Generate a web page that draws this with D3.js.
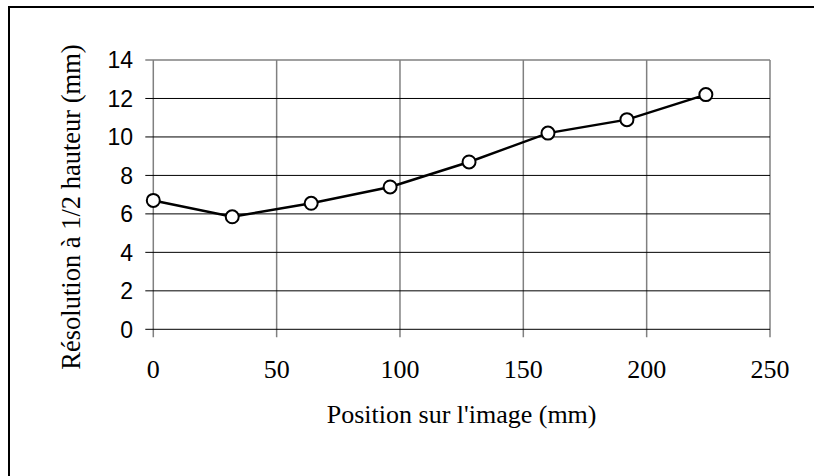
<!DOCTYPE html>
<html>
<head>
<meta charset="utf-8">
<script src="https://cdn.jsdelivr.net/npm/d3@7"></script>
<style>
  html, body { margin: 0; padding: 0; background: #fff; }
  svg { display: block; }
</style>
</head>
<body>
<svg id="chart" width="814" height="476"></svg>
<script>
// Position along the image (mm) and the half-height resolution measured there (mm)
const positions = [0, 32, 64, 96, 128, 160, 192, 224];
const resolution = [6.7, 5.85, 6.55, 7.4, 8.7, 10.2, 10.9, 12.2];
const xTicks = [0, 50, 100, 150, 200, 250];
const yTicks = [0, 2, 4, 6, 8, 10, 12, 14];
const xTitle = "Position sur l'image (mm)";
const yTitle = "Résolution à 1/2 hauteur (mm)";

const svg = d3.select("#chart");
const plot = { left: 153.3, right: 770, top: 60, bottom: 329.3 };

const x = d3.scaleLinear().domain([0, 250]).range([plot.left, plot.right]);
const y = d3.scaleLinear().domain([0, 14]).range([plot.bottom, plot.top]);

// outer frame
svg.append("rect")
  .attr("x", 9).attr("y", 7)
  .attr("width", 840).attr("height", 500)
  .attr("fill", "none").attr("stroke", "#000").attr("stroke-width", 2);

// vertical grid lines (grey)
svg.append("g")
  .selectAll("line")
  .data(xTicks)
  .join("line")
  .attr("x1", d => x(d)).attr("x2", d => x(d))
  .attr("y1", plot.top).attr("y2", plot.bottom + 8)
  .attr("stroke", "#808080").attr("stroke-width", 1.5);

// horizontal grid lines with left tick marks
svg.append("g")
  .selectAll("line")
  .data(yTicks)
  .join("line")
  .attr("x1", plot.left - 8).attr("x2", plot.right)
  .attr("y1", d => y(d)).attr("y2", d => y(d))
  .attr("stroke", d => d === 14 ? "#808080" : "#000")
  .attr("stroke-width", d => d === 14 ? 1.5 : 1);

// y axis labels
svg.append("g")
  .selectAll("text")
  .data(yTicks)
  .join("text")
  .attr("x", 133)
  .attr("y", d => y(d))
  .attr("dy", "0.36em")
  .attr("text-anchor", "end")
  .attr("font-family", "'Liberation Sans', Arial, sans-serif")
  .attr("font-size", 23)
  .attr("fill", "#000")
  .text(d => d);

// x axis labels
svg.append("g")
  .selectAll("text")
  .data(xTicks)
  .join("text")
  .attr("x", d => x(d))
  .attr("y", 378)
  .attr("text-anchor", "middle")
  .attr("font-family", "'Liberation Serif', 'Times New Roman', serif")
  .attr("font-size", 26)
  .attr("fill", "#000")
  .text(d => d);

// axis titles
svg.append("text")
  .attr("x", (plot.left + plot.right) / 2)
  .attr("y", 423)
  .attr("text-anchor", "middle")
  .attr("font-family", "'Liberation Serif', 'Times New Roman', serif")
  .attr("font-size", 26)
  .attr("fill", "#000")
  .text(xTitle);

svg.append("text")
  .attr("transform", "translate(80,207) rotate(-90)")
  .attr("text-anchor", "middle")
  .attr("font-family", "'Liberation Serif', 'Times New Roman', serif")
  .attr("font-size", 26.5)
  .attr("fill", "#000")
  .text(yTitle);

// data line and markers
const pts = positions.map((p, i) => [p, resolution[i]]);
svg.append("path")
  .datum(pts)
  .attr("fill", "none")
  .attr("stroke", "#000")
  .attr("stroke-width", 2.5)
  .attr("d", d3.line().x(d => x(d[0])).y(d => y(d[1])));

svg.append("g")
  .selectAll("circle")
  .data(pts)
  .join("circle")
  .attr("cx", d => x(d[0]))
  .attr("cy", d => y(d[1]))
  .attr("r", 6.5)
  .attr("fill", "#fff")
  .attr("stroke", "#000")
  .attr("stroke-width", 2);
</script>
</body>
</html>
